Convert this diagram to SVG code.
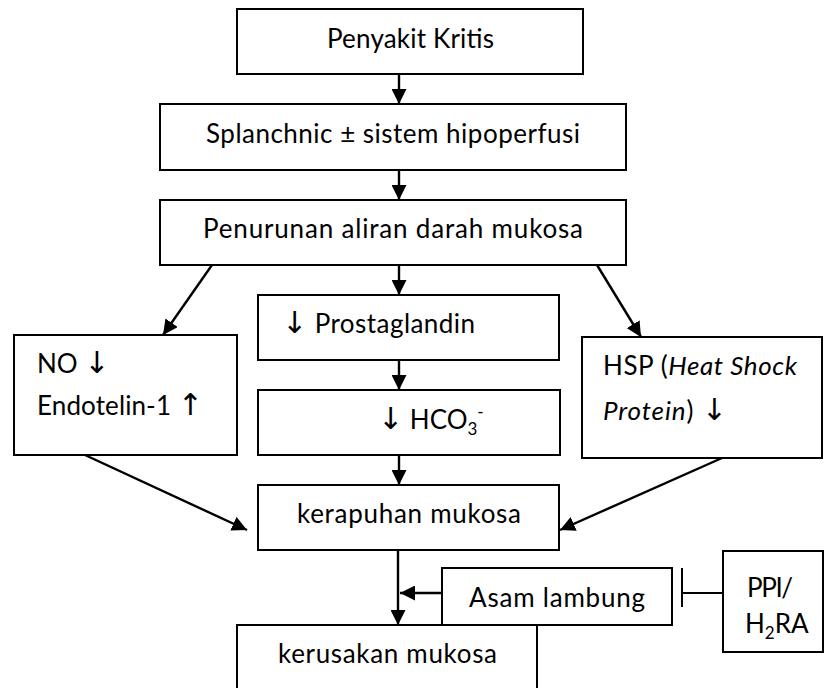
<svg xmlns="http://www.w3.org/2000/svg" width="834" height="688" viewBox="0 0 834 688">
<style>
.box{fill:#fff;stroke:#000;stroke-width:2}
.t{font-family:Lato,"DejaVu Sans",sans-serif;font-size:26px;fill:#000}
.ar{font-family:"DejaVu Sans",sans-serif;font-size:30px;fill:#000}
.c{stroke:#000;stroke-width:2.4;fill:none}
</style>
<defs>
<marker id="ah" markerUnits="userSpaceOnUse" markerWidth="15" markerHeight="15" viewBox="0 0 15 15" refX="15" refY="7.5" orient="auto">
<path d="M0,0 L15,7.5 L0,15 z" fill="#000"/>
</marker>
</defs>
<rect width="834" height="688" fill="#fff"/>
<g id="connectors">
<line class="c" x1="399" y1="74" x2="399" y2="104" marker-end="url(#ah)"/>
<line class="c" x1="399" y1="170" x2="399" y2="200" marker-end="url(#ah)"/>
<line class="c" x1="399" y1="265" x2="399" y2="295" marker-end="url(#ah)"/>
<line class="c" x1="212" y1="265" x2="163" y2="335" marker-end="url(#ah)"/>
<line class="c" x1="597" y1="265" x2="641" y2="337" marker-end="url(#ah)"/>
<line class="c" x1="399" y1="360" x2="399" y2="390" marker-end="url(#ah)"/>
<line class="c" x1="399" y1="455" x2="399" y2="485" marker-end="url(#ah)"/>
<line class="c" x1="85" y1="455" x2="247" y2="530" marker-end="url(#ah)"/>
<line class="c" x1="722" y1="458" x2="560" y2="530" marker-end="url(#ah)"/>
<line class="c" x1="398" y1="550" x2="398" y2="625" marker-end="url(#ah)"/>
<line class="c" x1="442" y1="593" x2="400" y2="593" marker-end="url(#ah)"/>
<line stroke="#000" stroke-width="2" x1="682" y1="568" x2="682" y2="607"/>
<line stroke="#000" stroke-width="2" x1="682" y1="593" x2="723" y2="593"/>
</g>
<g id="n1"><rect class="box" x="237" y="9" width="346" height="65"/>
<text class="t" x="327" y="48" textLength="167">Penyakit Kritis</text></g>
<g id="n2"><rect class="box" x="160" y="104" width="466" height="66"/>
<text class="t" x="206" y="143" textLength="374">Splanchnic ± sistem hipoperfusi</text></g>
<g id="n3"><rect class="box" x="160" y="200" width="466" height="65"/>
<text class="t" x="203" y="238" textLength="380">Penurunan aliran darah mukosa</text></g>
<g id="n4"><rect class="box" x="258" y="295" width="301" height="65"/>
<text class="t" x="282" y="333" textLength="193"><tspan class="ar">↓</tspan> Prostaglandin</text></g>
<g id="n5"><rect class="box" x="258" y="390" width="302" height="65"/>
<text class="t" x="378" y="429"><tspan class="ar">↓</tspan> HCO<tspan font-size="17" dy="6">3</tspan><tspan font-size="17" dy="-17">-</tspan></text></g>
<g id="n6"><rect class="box" x="14" y="335" width="223" height="120"/>
<text class="t" x="37" y="373">NO <tspan class="ar">↓</tspan></text>
<text class="t" x="37" y="415" textLength="166">Endotelin-1 <tspan class="ar">↑</tspan></text></g>
<g id="n7"><rect class="box" x="582" y="337" width="240" height="121"/>
<text class="t" x="603" y="375" textLength="194">HSP (<tspan font-style="italic">Heat Shock</tspan></text>
<text class="t" x="603" y="420" textLength="124"><tspan font-style="italic">Protein</tspan>) <tspan class="ar">↓</tspan></text></g>
<g id="n8"><rect class="box" x="258" y="485" width="301" height="65"/>
<text class="t" x="297" y="523" textLength="224">kerapuhan mukosa</text></g>
<g id="n9"><rect class="box" x="442" y="568" width="230" height="57"/>
<text class="t" x="469" y="607" textLength="176">Asam lambung</text></g>
<g id="n10"><rect class="box" x="723" y="551" width="100" height="101"/>
<text class="t" x="747" y="597" textLength="46">PPI/</text>
<text class="t" x="745" y="633">H<tspan font-size="17" dy="6">2</tspan><tspan dy="-6">RA</tspan></text></g>
<g id="n11"><rect class="box" x="237" y="625" width="300" height="75"/>
<text class="t" x="278" y="663" textLength="219">kerusakan mukosa</text></g>
</svg>
